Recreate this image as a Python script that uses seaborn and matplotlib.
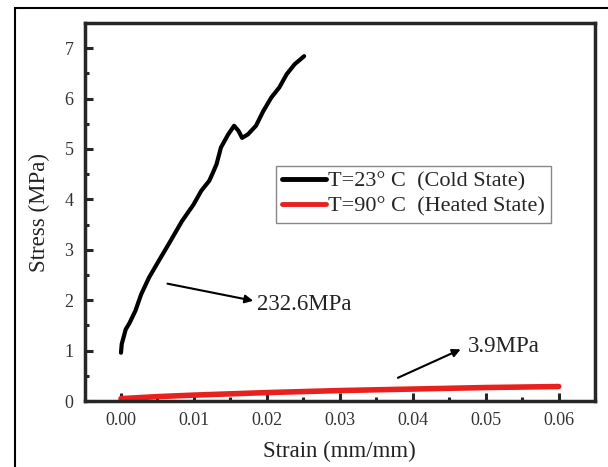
import seaborn as sns
import pandas as pd
import matplotlib.pyplot as plt
from matplotlib.patches import Rectangle
from matplotlib.ticker import MultipleLocator

# cold state curve (T=23 C)
cold_strain = [0.0, 0.0001, 0.00064, 0.00117, 0.00197, 0.00277, 0.00384, 0.00517, 0.00676,
               0.00836, 0.00995, 0.0110, 0.0121, 0.0126, 0.0131, 0.0137, 0.0147, 0.0155,
               0.0161, 0.0166, 0.0174, 0.0185, 0.0195, 0.0206, 0.0217, 0.0227, 0.0238, 0.0251]
cold_stress = [0.96, 1.13, 1.42, 1.55, 1.79, 2.12, 2.45, 2.78, 3.17,
               3.57, 3.90, 4.17, 4.37, 4.53, 4.70, 5.03, 5.29, 5.46,
               5.36, 5.22, 5.29, 5.46, 5.75, 6.02, 6.22, 6.48, 6.68, 6.84]

# heated state curve (T=90 C)
hot_strain = [0.0, 0.005, 0.01, 0.02, 0.03, 0.04, 0.05, 0.06]
hot_stress = [0.05, 0.09, 0.12, 0.17, 0.21, 0.24, 0.27, 0.29]

labels = ['T=23\u00b0 C  (Cold State)', 'T=90\u00b0 C  (Heated State)']

cold = pd.DataFrame({'strain': cold_strain, 'stress': cold_stress})
hot = pd.DataFrame({'strain': hot_strain, 'stress': hot_stress})

sns.set_style('ticks')
plt.rcParams['font.family'] = ['Liberation Serif', 'DejaVu Serif']

fig, ax = plt.subplots(figsize=(6.08, 4.67), dpi=100)
fig.subplots_adjust(left=0.139, right=0.979, top=0.951, bottom=0.141)

sns.lineplot(data=cold, x='strain', y='stress', color='black', lw=3, estimator=None,
             sort=False, label=labels[0], ax=ax)
sns.lineplot(data=hot, x='strain', y='stress', color='#e8201e', lw=4, estimator=None,
             sort=False, label=labels[1], ax=ax)

ax.set_xlim(-0.005, 0.065)
ax.set_ylim(0, 7.5)
ax.xaxis.set_major_locator(MultipleLocator(0.01))
ax.xaxis.set_minor_locator(MultipleLocator(0.005))
ax.yaxis.set_major_locator(MultipleLocator(1))
ax.yaxis.set_minor_locator(MultipleLocator(0.5))
ax.set_xticks([0, 0.01, 0.02, 0.03, 0.04, 0.05, 0.06])
ax.set_xticklabels(['0.00', '0.01', '0.02', '0.03', '0.04', '0.05', '0.06'])
ax.tick_params(which='both', direction='in', width=2.2, labelsize=13, labelcolor='#333333',
               top=False, right=False)
ax.tick_params(which='major', length=6, pad=8)
ax.tick_params(which='minor', length=3)
for s in ax.spines.values():
    s.set_visible(True)
    s.set_linewidth(2.5)

ax.set_xlabel('Strain (mm/mm)', fontsize=16.5, color='#222222', labelpad=8)
ax.set_ylabel('Stress (MPa)', fontsize=16.5, color='#222222', labelpad=10)

ax.annotate('', xy=(0.0185, 1.98), xytext=(0.0060, 2.34),
            arrowprops=dict(arrowstyle='-|>', color='black', lw=1.5, mutation_scale=12))
ax.text(0.0187, 1.92, '232.6MPa', fontsize=16.5, va='center', ha='left', color='#222222')

ax.annotate('', xy=(0.0469, 1.05), xytext=(0.0376, 0.44),
            arrowprops=dict(arrowstyle='-|>', color='black', lw=1.5, mutation_scale=12))
ax.text(0.0476, 1.09, '3.9MPa', fontsize=16.5, va='center', ha='left', color='#222222')

leg = ax.legend(loc='upper left', bbox_to_anchor=(0.375, 0.622), fontsize=16,
                fancybox=False, edgecolor='#888888', framealpha=1, handlelength=2.0,
                handletextpad=0.1, borderpad=0.25, labelspacing=0.2, borderaxespad=0)
for line in leg.get_lines():
    line.set_linewidth(3.5)
leg.get_frame().set_linewidth(1.0)

fig.patches.append(Rectangle((15 / 608, -0.1), 1.2, 1 - 8 / 467 + 0.1, transform=fig.transFigure,
                             fill=False, edgecolor='black', lw=1.5))

fig.savefig('out.png', dpi=100)
